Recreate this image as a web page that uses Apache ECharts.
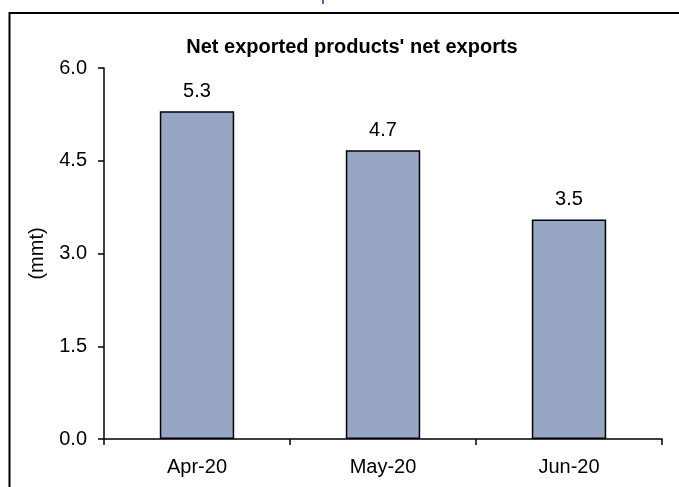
<!DOCTYPE html>
<html>
<head>
<meta charset="utf-8">
<script src="https://cdn.jsdelivr.net/npm/echarts@6/dist/echarts.min.js"></script>
<style>
html,body{margin:0;padding:0;background:#fff;}
#c{width:679px;height:487px;}
</style>
</head>
<body>
<div id="c"></div>
<script>
const categories = ['Apr-20', 'May-20', 'Jun-20'];
const netExports = [5.3, 4.67, 3.55];
const yTicks = [0, 1.5, 3.0, 4.5, 6.0];
const titleText = "Net exported products' net exports";
const yName = '(mmt)';

const chart = echarts.init(document.getElementById('c'));
const font = 'Liberation Sans, Arial, sans-serif';
chart.setOption({
  animation: false,
  backgroundColor: '#fff',
  title: {
    text: titleText,
    left: 347, top: 32, textAlign: 'center',
    textStyle: {fontFamily: font, fontSize: 20, fontWeight: 'bold', color: '#000'}
  },
  graphic: [
    {type: 'polyline', shape: {points: [[9.5, 520], [9.5, 13], [700, 13]]},
     style: {stroke: '#000', lineWidth: 2, fill: null}, silent: true},
    {type: 'rect', shape: {x: 322, y: 0, width: 2, height: 4},
     style: {fill: '#4a6bb0'}, silent: true}
  ],
  grid: {left: 104, right: 17, top: 68, bottom: 48},
  xAxis: {
    type: 'category',
    data: categories,
    axisLine: {lineStyle: {color: '#000', width: 1.5}},
    axisTick: {show: true, length: 6, alignWithLabel: false, lineStyle: {color: '#000', width: 1.5}},
    axisLabel: {fontFamily: font, fontSize: 20, color: '#000', margin: 18}
  },
  yAxis: {
    type: 'value',
    min: yTicks[0], max: yTicks[yTicks.length - 1], interval: 1.5,
    name: yName, nameLocation: 'middle', nameGap: 57, nameRotate: 90,
    nameTextStyle: {fontFamily: font, fontSize: 20, color: '#000'},
    axisLine: {show: true, lineStyle: {color: '#000', width: 1.5}},
    axisTick: {show: true, length: 6, lineStyle: {color: '#000', width: 1.5}},
    splitLine: {show: false},
    axisLabel: {fontFamily: font, fontSize: 20, color: '#000', margin: 17,
      formatter: v => v.toFixed(1)}
  },
  series: [{
    type: 'bar',
    data: netExports,
    barWidth: '40%',
    itemStyle: {color: '#97A6C4', borderColor: '#000', borderWidth: 1.5},
    label: {show: true, position: 'top', distance: 10, fontFamily: font, fontSize: 20, color: '#000',
      formatter: p => p.value.toFixed(1)}
  }]
});
</script>
</body>
</html>
